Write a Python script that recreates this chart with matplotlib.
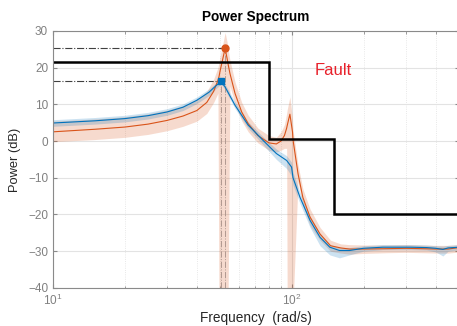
import matplotlib
matplotlib.use("Agg")
import matplotlib.pyplot as plt
from matplotlib.ticker import LogLocator, NullFormatter

plt.rcParams['font.family'] = ['Liberation Sans', 'DejaVu Sans']

# ---- data ----
red_f = [10, 15, 20, 25, 30, 35, 40, 44, 47, 49, 49.5, 50, 51, 52.5, 53.5, 54, 55, 57.8, 61.6,
         65.6, 72, 80, 86, 90, 93, 95, 95.5, 98, 100.5, 101, 106, 111, 119, 131, 145, 160, 174,
         200, 250, 300, 350, 400, 450, 500]
red_mean = [2.5, 3.2, 3.8, 4.6, 5.6, 6.8, 8.3, 10.5, 13.5, 16.5, 17.5, 19, 21.5, 25.2, 22.5, 21.0,
            18.4, 12.9, 7.9, 4.7, 1.5, -0.5, -0.8, 0, 1.5, 3.5, 4.2, 7.3, 2.5, 0.3, -8.9, -15.3,
            -20.7, -25.3, -28.5, -29.1, -29.4, -29.4, -29.3, -29.2, -29.3, -29.4, -29.4, -29.0]
red_upper = [5.4, 6.0, 6.6, 7.4, 8.4, 9.6, 11.2, 13.5, 16.8, 20, 21.5, 23, 25.5, 29.5, 27, 25,
             22, 16, 10.5, 7, 3.5, 1.5, 1.0, 2.5, 4.5, 7.5, 8.5, 12, 6, 3, -6.5, -13, -18.5,
             -23.5, -27, -28, -28.2, -28.3, -28.3, -28.2, -28.3, -28.4, -28.4, -28.2]
red_lower = [-0.2, 0.4, 1.0, 1.8, 2.8, 4.0, 5.4, 7.5, 10.5, 13, -45, -45, -45, -45, -45, -45,
             15, 10, 5.5, 2.5, -0.5, -2.5, -3, -2.5, -2, -2, -45, -45, -45, -45, -11, -17.5,
             -23, -27, -30, -30.5, -30.8, -30.6, -30.4, -30.3, -30.4, -30.5, -30.5, -30.2]

blue_f = [10, 15, 20, 25, 30, 35, 40, 45, 48, 50.5, 52.5, 57.8, 65.6, 68.7, 75.6, 86, 95, 99.6,
          101, 108, 119, 131, 144, 158, 174, 199, 240, 314, 366, 400, 428, 450, 500]
blue_mean = [4.9, 5.5, 6.1, 6.9, 7.9, 9.2, 11.1, 13.3, 15, 16.2, 14.7, 9.7, 4.3, 3.0, 0.2, -3.4,
             -5.3, -7.1, -10, -15.3, -21.6, -26.2, -28.9, -29.8, -29.8, -29.2, -28.9, -28.9,
             -29.0, -29.2, -29.5, -29.1, -28.9]
blue_upper = [5.8, 6.4, 7.0, 7.8, 8.8, 10.1, 12.0, 14.2, 15.8, 16.9, 15.5, 10.6, 5.2, 3.9, 1.2,
              -2.2, -4.0, -5.8, -8.5, -14, -20.5, -25.3, -28.2, -29.0, -29.0, -28.5, -28.2,
              -28.2, -28.3, -28.5, -28.6, -28.4, -28.2]
blue_lower = [4.0, 4.6, 5.2, 6.0, 7.0, 8.3, 10.2, 12.4, 14.2, 15.5, 13.9, 8.8, 3.4, 2.0, -1.0,
              -5.0, -7.5, -9.5, -12, -17, -23.5, -28.5, -31, -31.8, -31, -30, -29.6, -29.6,
              -29.7, -30.2, -31.3, -30, -29.6]

step_edges = [10, 80, 150, 500]
step_levels = [21.5, 0.5, -20]

red_peak = (52.5, 25.2)
blue_peak = (50.5, 16.2)

RED = '#D95319'
BLUE = '#0072BD'

fig = plt.figure(figsize=(4.57, 3.26), dpi=100)
ax = fig.add_axes([0.116, 0.1166, 0.8884, 0.789])

ax.fill_between(red_f, red_lower, red_upper, color=RED, alpha=0.21, linewidth=0)
ax.fill_between(blue_f, blue_lower, blue_upper, color=BLUE, alpha=0.2, linewidth=0)

# vertical dash-dot lines from peaks down
for pf, pv in (blue_peak, red_peak):
    ax.plot([pf, pf], [-40, pv], color='#b09890', lw=0.7, ls='-.')
# horizontal dash-dot lines
for pf, pv in (red_peak, blue_peak):
    ax.plot([10, pf], [pv, pv], color='#404040', lw=0.8, ls='-.')

ax.plot(red_f, red_mean, color=RED, lw=0.8)
ax.plot(blue_f, blue_mean, color=BLUE, lw=0.8)

sx = []
sy = []
for i, lv in enumerate(step_levels):
    sx += [step_edges[i], step_edges[i + 1]]
    sy += [lv, lv]
ax.plot(sx, sy, color='black', lw=1.8, solid_joinstyle='miter')

ax.plot([red_peak[0]], [red_peak[1]], 'o', color=RED, ms=5)
ax.plot([blue_peak[0]], [blue_peak[1]], 's', color=BLUE, ms=5)

ax.text(124, 19.3, 'Fault', color='#e8212b', fontsize=12, va='center', ha='left')

ax.set_xscale('log')
ax.set_xlim(10, 500)
ax.set_ylim(-40, 30)
ax.set_yticks(range(-40, 31, 10))
ax.xaxis.set_major_locator(LogLocator(base=10, numticks=5))
ax.xaxis.set_minor_locator(LogLocator(base=10, subs=range(2, 10), numticks=20))
ax.xaxis.set_minor_formatter(NullFormatter())

ax.grid(True, which='major', color='#e3e3e3', lw=0.8, ls='-')
ax.grid(True, which='minor', axis='x', color='#e0e0e0', lw=0.6, ls=':')
ax.set_axisbelow(True)

for s in ax.spines.values():
    s.set_color('#8a8a8a')
    s.set_linewidth(0.8)
ax.tick_params(which='both', direction='in', colors='#8a8a8a', labelcolor='#808080',
               labelsize=8.5, top=True, right=True)
ax.tick_params(which='major', length=3)
ax.tick_params(which='minor', length=1.8)

ax.set_title('Power Spectrum', fontsize=9.8, fontweight='bold', pad=7)
ax.set_xlabel('Frequency  (rad/s)', fontsize=9.8, color='#262626', labelpad=2)
ax.set_ylabel('Power (dB)', fontsize=9.3, color='#262626', labelpad=5)

fig.savefig('out.png', dpi=100)
